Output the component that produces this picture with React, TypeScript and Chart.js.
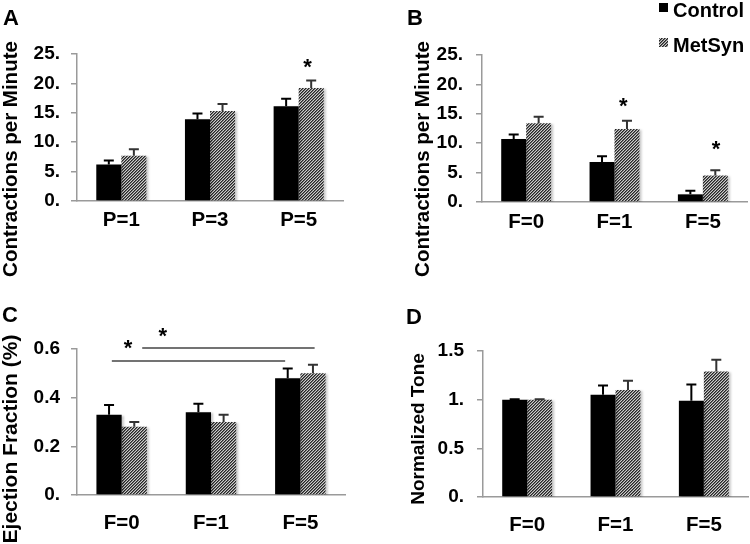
import React, { useEffect, useRef } from "react";
import { Chart, registerables } from "chart.js";

Chart.register(...registerables);

const FONT = "'Liberation Sans', Arial, Helvetica, sans-serif";

// ---------- data ----------
const seriesNames = ["Control", "MetSyn"];

const categoriesA = ["P=1", "P=3", "P=5"];
const controlA = [6.2, 13.9, 16.1];
const controlErrA = [0.7, 1.0, 1.3];
const metsynA = [7.7, 15.3, 19.2];
const metsynErrA = [1.1, 1.2, 1.3];
const yTicksA = ["0.", "5.", "10.", "15.", "20.", "25."];

const categoriesB = ["F=0", "F=1", "F=5"];
const controlB = [10.7, 6.8, 1.3];
const controlErrB = [0.8, 1.0, 0.6];
const metsynB = [13.4, 12.4, 4.5];
const metsynErrB = [1.1, 1.4, 0.9];
const yTicksB = ["0.", "5.", "10.", "15.", "20.", "25."];

const categoriesC = ["F=0", "F=1", "F=5"];
const controlC = [0.33, 0.34, 0.48];
const controlErrC = [0.04, 0.035, 0.04];
const metsynC = [0.28, 0.3, 0.5];
const metsynErrC = [0.02, 0.03, 0.035];
const yTicksC = ["0.", "0.2", "0.4", "0.6"];

const categoriesD = ["F=0", "F=1", "F=5"];
const controlD = [1.0, 1.05, 0.99];
const controlErrD = [0.005, 0.095, 0.165];
const metsynD = [1.0, 1.1, 1.29];
const metsynErrD = [0.005, 0.095, 0.12];
const yTicksD = ["0.", "0.5", "1.", "1.5"];

// significance marks: position as fractional category index, value on y scale
const starsA = [{ at: 2.1, value: 23.8 }];
const starsB = [
  { at: 1.1, value: 17.3 },
  { at: 2.15, value: 10.0 },
];
const starsC = [
  { at: 0.07, value: 0.629 },
  { at: 0.46, value: 0.678 },
];
const sigLinesC = [
  { from: -0.11, to: 1.83, value: 0.551 },
  { from: 0.23, to: 2.16, value: 0.604 },
];

// ---------- helpers ----------
function makeHatch(): CanvasPattern | string {
  const n = 3;
  const t = document.createElement("canvas");
  t.width = n;
  t.height = n;
  const c = t.getContext("2d");
  if (!c) return "#777";
  const shades = ["#262626", "#6e6e6e", "#cdcdcd"];
  for (let x = 0; x < n; x++) {
    for (let y = 0; y < n; y++) {
      c.fillStyle = shades[(x + y) % n];
      c.fillRect(x, y, 1, 1);
    }
  }
  const p = c.createPattern(t, "repeat");
  return p || "#777";
}

type Panel = {
  letter: string;
  letterX: number;
  letterY: number;
  title: string;
  titleX: number;
  titleY: number;
  titleSize: number;
  categories: string[];
  control: number[];
  controlErr: number[];
  metsyn: number[];
  metsynErr: number[];
  yMax: number;
  yStep: number;
  yTicks: string[];
  canvasH: number;
  area: { left: number; top: number; right: number; bottom: number };
  tickPad: number;
  xPad: number;
  stars: { at: number; value: number }[];
  lines: { from: number; to: number; value: number }[];
  legend: boolean;
  legendX: number;
};

const panels: { panel: Panel; left: number; top: number }[] = [
  {
    left: 0,
    top: 0,
    panel: {
      letter: "A", letterX: 3, letterY: 25,
      title: "Contractions per Minute", titleX: 17, titleY: 159, titleSize: 20.5,
      categories: categoriesA, control: controlA, controlErr: controlErrA, metsyn: metsynA, metsynErr: metsynErrA,
      yMax: 25, yStep: 5, yTicks: yTicksA,
      canvasH: 290,
      area: { left: 77, top: 54, right: 343, bottom: 201 },
      tickPad: 11, xPad: 7,
      stars: starsA, lines: [], legend: false, legendX: 0,
    },
  },
  {
    left: 375,
    top: 0,
    panel: {
      letter: "B", letterX: 32, letterY: 25,
      title: "Contractions per Minute", titleX: 54, titleY: 159, titleSize: 20.5,
      categories: categoriesB, control: controlB, controlErr: controlErrB, metsyn: metsynB, metsynErr: metsynErrB,
      yMax: 25, yStep: 5, yTicks: yTicksB,
      canvasH: 290,
      area: { left: 107, top: 55, right: 372, bottom: 202 },
      tickPad: 13, xPad: 8,
      stars: starsB, lines: [], legend: true, legendX: 284,
    },
  },
  {
    left: 0,
    top: 272,
    panel: {
      letter: "C", letterX: 2, letterY: 50,
      title: "Ejection Fraction (%)", titleX: 17, titleY: 167, titleSize: 21,
      categories: categoriesC, control: controlC, controlErr: controlErrC, metsyn: metsynC, metsynErr: metsynErrC,
      yMax: 0.6, yStep: 0.2, yTicks: yTicksC,
      canvasH: 272,
      area: { left: 77, top: 77, right: 345, bottom: 223 },
      tickPad: 11, xPad: 16,
      stars: starsC, lines: sigLinesC, legend: false, legendX: 0,
    },
  },
  {
    left: 375,
    top: 272,
    panel: {
      letter: "D", letterX: 31, letterY: 52,
      title: "Normalized Tone", titleX: 49, titleY: 157, titleSize: 19,
      categories: categoriesD, control: controlD, controlErr: controlErrD, metsyn: metsynD, metsynErr: metsynErrD,
      yMax: 1.5, yStep: 0.5, yTicks: yTicksD,
      canvasH: 272,
      area: { left: 108, top: 79, right: 373, bottom: 225 },
      tickPad: 13, xPad: 16,
      stars: [], lines: [], legend: false, legendX: 0,
    },
  },
];

function PanelChart({ panel, left, top }: { panel: Panel; left: number; top: number }) {
  const ref = useRef<HTMLCanvasElement>(null);

  useEffect(() => {
    const canvas = ref.current;
    if (!canvas) return;
    const hatch = makeHatch();
    const errs = [panel.controlErr, panel.metsynErr];
    const errColors = ["#000000", "#333333"];

    const xAt = (chart: any, f: number) => {
      const xs = chart.scales.x;
      const p0 = xs.getPixelForValue(0);
      const p1 = xs.getPixelForValue(1);
      return p0 + f * (p1 - p0);
    };

    const annot = {
      id: "annot",
      beforeDatasetsDraw(chart: any) {
        const ctx = chart.ctx;
        ctx.save();
        ctx.shadowColor = "rgba(0,0,0,0.22)";
        ctx.shadowOffsetX = 2;
        ctx.shadowOffsetY = 1;
        ctx.shadowBlur = 2;
      },
      afterDatasetsDraw(chart: any) {
        const ctx = chart.ctx;
        ctx.restore();
        const ys = chart.scales.y;
        ctx.save();
        for (let d = 0; d < 2; d++) {
          const meta = chart.getDatasetMeta(d);
          const vals = chart.data.datasets[d].data as number[];
          meta.data.forEach((el: any, i: number) => {
            const yTop = ys.getPixelForValue(vals[i] + errs[d][i]);
            ctx.strokeStyle = errColors[d];
            ctx.lineWidth = 2;
            ctx.beginPath();
            ctx.moveTo(el.x, el.y);
            ctx.lineTo(el.x, yTop);
            ctx.moveTo(el.x - 5, yTop);
            ctx.lineTo(el.x + 5, yTop);
            ctx.stroke();
          });
        }
        ctx.restore();
      },
      afterDraw(chart: any) {
        const ctx = chart.ctx;
        const ys = chart.scales.y;
        ctx.save();
        ctx.fillStyle = "#000";
        // panel letter
        ctx.font = `bold 22px ${FONT}`;
        ctx.textAlign = "left";
        ctx.textBaseline = "alphabetic";
        ctx.fillText(panel.letter, panel.letterX, panel.letterY);
        // y title
        ctx.save();
        ctx.translate(panel.titleX, panel.titleY);
        ctx.rotate(-Math.PI / 2);
        ctx.font = `bold ${panel.titleSize}px ${FONT}`;
        ctx.textAlign = "center";
        ctx.fillText(panel.title, 0, 0);
        ctx.restore();
        // significance lines
        ctx.strokeStyle = "#444";
        ctx.lineWidth = 1.5;
        panel.lines.forEach((l) => {
          const y = ys.getPixelForValue(l.value);
          ctx.beginPath();
          ctx.moveTo(xAt(chart, l.from), y);
          ctx.lineTo(xAt(chart, l.to), y);
          ctx.stroke();
        });
        // stars
        const ss = 22;
        ctx.font = `bold ${ss}px ${FONT}`;
        ctx.textAlign = "center";
        panel.stars.forEach((s) => {
          const y = ys.getPixelForValue(s.value);
          ctx.fillText("*", xAt(chart, s.at), y + 0.58 * ss);
        });
        // legend
        if (panel.legend) {
          const ds = chart.data.datasets;
          const rows = [12, 47];
          ctx.font = `bold 20px ${FONT}`;
          ctx.textAlign = "left";
          ds.forEach((d: any, i: number) => {
            ctx.fillStyle = d.backgroundColor;
            ctx.fillRect(panel.legendX, rows[i] - 9, 9, 9);
            ctx.fillStyle = "#000";
            ctx.fillText(d.label, panel.legendX + 14, rows[i] + 5);
          });
        }
        ctx.restore();
      },
    };

    const tickFont = { family: FONT, size: 19, weight: "bold" as const };
    const chart = new Chart(canvas, {
      type: "bar",
      data: {
        labels: panel.categories,
        datasets: [
          {
            label: seriesNames[0],
            data: panel.control,
            backgroundColor: "#000000",
            categoryPercentage: 0.565,
            barPercentage: 1,
          },
          {
            label: seriesNames[1],
            data: panel.metsyn,
            backgroundColor: hatch as any,
            categoryPercentage: 0.565,
            barPercentage: 1,
          },
        ],
      },
      options: {
        responsive: false,
        animation: false,
        devicePixelRatio: 1,
        layout: {
          padding: {
            left: 0,
            top: panel.area.top,
            right: 375 - panel.area.right,
            bottom: 0,
          },
        },
        plugins: {
          legend: { display: false },
          tooltip: { enabled: false },
        },
        scales: {
          x: {
            grid: { display: false, drawTicks: false },
            border: { display: true, color: "#9a9a9a", width: 1.5 },
            ticks: {
              font: { family: FONT, size: 20.5, weight: "bold" },
              color: "#000",
              padding: panel.xPad,
              maxRotation: 0,
              autoSkip: false,
            },
            afterFit: (s: any) => {
              s.height = panel.canvasH - panel.area.bottom;
            },
          },
          y: {
            min: 0,
            max: panel.yMax,
            ticks: {
              stepSize: panel.yStep,
              font: tickFont,
              color: "#000",
              padding: panel.tickPad,
              callback: (_v: any, i: number) => panel.yTicks[i],
            },
            grid: {
              drawOnChartArea: false,
              drawTicks: true,
              tickLength: 6,
              color: "#9a9a9a",
              lineWidth: 1.5,
            },
            border: { display: true, color: "#9a9a9a", width: 1.5 },
            afterFit: (s: any) => {
              s.width = panel.area.left;
            },
          },
        },
      },
      plugins: [annot],
    });
    return () => chart.destroy();
  }, [panel]);

  return (
    <canvas
      ref={ref}
      width={375}
      height={panel.canvasH}
      style={{
        position: "absolute",
        left,
        top,
        width: 375,
        height: panel.canvasH,
      }}
    />
  );
}

export default function App() {
  return (
    <div
      style={{
        position: "absolute",
        left: 0,
        top: 0,
        width: 750,
        height: 544,
        background: "#fff",
        overflow: "hidden",
      }}
    >
      {panels.map((p, i) => (
        <PanelChart key={i} panel={p.panel} left={p.left} top={p.top} />
      ))}
    </div>
  );
}
